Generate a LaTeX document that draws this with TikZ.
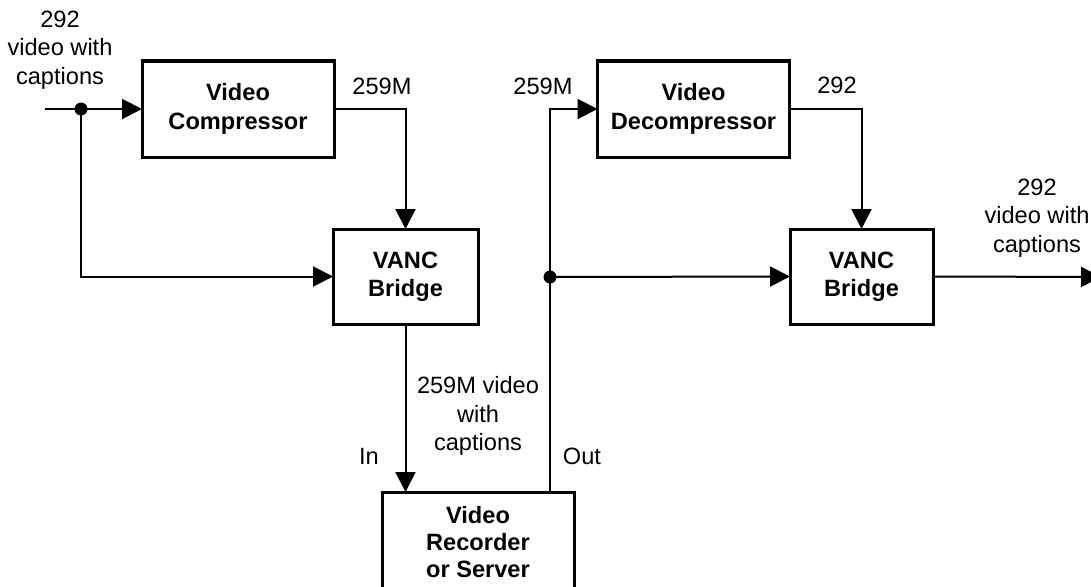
\documentclass[tikz,border=0pt]{standalone}
\usepackage{fontspec}
\setmainfont{Liberation Sans}
\usetikzlibrary{arrows.meta}

\begin{document}
\begin{tikzpicture}[x=1pt,y=-1pt,
  font=\fontsize{23.6}{28.3}\selectfont,
  block/.style={draw, line width=3pt, rectangle, outer sep=0pt, inner sep=0pt,
                align=center, font=\fontsize{23.6}{28.3}\selectfont\bfseries},
  wire/.style={line width=2pt},
  feed/.style={wire, -{Triangle[length=20pt,width=20pt]}},
  junction/.style={circle, fill, inner sep=0pt, minimum size=13pt},
  txt/.style={align=center, inner sep=0pt}]

\useasboundingbox (0,0) rectangle (1091,586);
\clip (0,0) rectangle (1091,586);

% processing blocks
\node[block, minimum width=192pt, minimum height=96pt] (comp) at (238,109) {Video\\Compressor};
\node[block, minimum width=145pt, minimum height=95pt] (vanc1) at (405.5,276.5) {VANC\\Bridge};
\node[block, minimum width=192pt, minimum height=96pt] (decomp) at (693.5,109) {Video\\Decompressor};
\node[block, minimum width=143pt, minimum height=95pt] (vanc2) at (861.5,276.5) {VANC\\Bridge};
\node[block, minimum width=192pt, minimum height=140pt] (rec) at (478,562) {};
\node[txt, font=\fontsize{23.6}{27}\selectfont\bfseries] (rectxt) at (478,542) {Video\\Recorder\\or Server};

% junctions and free ends
\node[junction] (j1) at (81,109) {};
\node[junction] (j2) at (550,277) {};
\coordinate (src) at (45,109);
\coordinate (sink) at (1101,277);

% signal path
\draw[wire] (src) -- (j1.center);
\draw[feed] (j1.center) -- (comp.west);
\draw[feed] (j1.center) |- (vanc1.west);
\draw[feed] (comp.east) -| (vanc1.north);
\draw[feed] (vanc1.south) -- (vanc1.south |- rec.north);
\draw[wire] (rec.north -| j2) -- (j2.center);
\draw[feed] (j2.center) |- (decomp.west);
\draw[feed] (j2.center) -- (vanc2.west);
\draw[feed] (decomp.east) -| (vanc2.north);
\draw[feed] (vanc2.east) -- (sink);

% signal labels
\node[txt] (lin) at (60,50) {292\\video with\\captions};
\node[txt] (l259a) at (382,86) {259M};
\node[txt] (l259b) at (543,86) {259M};
\node[txt] (l292) at (837,85) {292};
\node[txt] (lout) at (1037,218) {292\\video with\\captions};
\node[txt] (lmid) at (478,416) {259M video\\with\\captions};
\node[txt] (lrin) at (369,456) {In};
\node[txt] (lrout) at (582,456) {Out};
\end{tikzpicture}
\end{document}
